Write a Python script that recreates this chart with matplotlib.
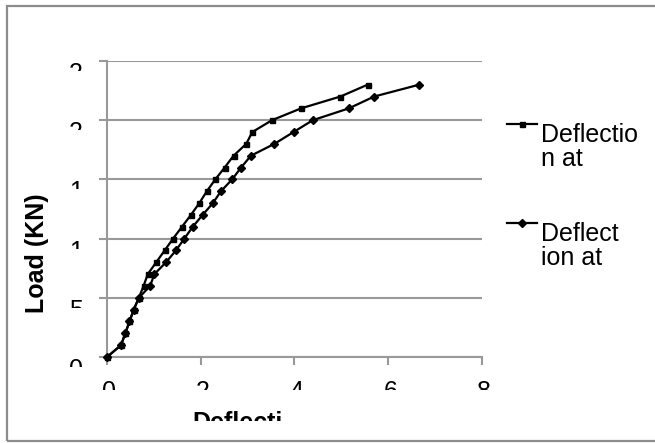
import matplotlib.pyplot as plt
from matplotlib.transforms import Bbox, IdentityTransform
from matplotlib.lines import Line2D
from matplotlib.patches import Rectangle

plt.rcParams['font.family'] = ['Liberation Sans', 'DejaVu Sans']

# load steps in kN and the deflection read at each step, two runs
load = [0, 1, 2, 3, 4, 5, 6, 7, 8, 9, 10, 11, 12, 13, 14, 15, 16, 17, 18, 19, 20, 21, 22, 23]
defl_a = [0, 0.30, 0.39, 0.48, 0.57, 0.68, 0.78, 0.87, 1.05, 1.23, 1.41, 1.60,
          1.79, 1.97, 2.13, 2.31, 2.51, 2.70, 2.97, 3.10, 3.52, 4.14, 4.98, 5.56]
defl_b = [0, 0.30, 0.39, 0.48, 0.57, 0.68, 0.92, 1.01, 1.26, 1.47, 1.65, 1.83,
          2.04, 2.26, 2.43, 2.67, 2.86, 3.07, 3.57, 3.98, 4.39, 5.16, 5.70, 6.66]

x_ticks = [0, 2, 4, 6, 8]
y_ticks = [0, 5, 10, 15, 20, 25]
x_tick_text = ['0', '2', '4', '6', '8']
y_tick_text = ['0', '5', '10', '15', '20', '25']
legend_text = ['Deflectio\nn at', 'Deflect\nion at']
x_title = 'Deflecti'
y_title = 'Load (KN)'

W, H = 655, 443
fig = plt.figure(figsize=(W / 100, H / 100), dpi=100)
ax = fig.add_axes([107 / W, 1 - 357 / H, 375 / W, 296 / H])
grey = '#999999'
FS = 18

ax.plot(defl_a, load, color='black', lw=1.6, marker='s', ms=3.6, clip_on=False, zorder=3)
ax.plot(defl_b, load, color='black', lw=1.6, marker='D', ms=3.6, clip_on=False, zorder=3)

ax.set_xlim(0, 8)
ax.set_ylim(0, 25)
ax.set_xticks(x_ticks)
ax.set_yticks(y_ticks)
ax.tick_params(labelleft=False, labelbottom=False, direction='out',
               length=6, width=1.5, color=grey)
ax.yaxis.grid(True, color=grey, lw=1.5)
ax.set_axisbelow(True)
for s in ('top', 'right'):
    ax.spines[s].set_visible(False)
for s in ('left', 'bottom'):
    ax.spines[s].set_color(grey)
    ax.spines[s].set_linewidth(1.5)


def cut_text(x, top, s, keep, **kw):
    # text in pixel coords (y from the top), chopped off `keep` px below its top
    t = fig.text(x, H - top, s, transform=IdentityTransform(), va='top',
                 fontsize=FS, **kw)
    t.set_clip_box(Bbox.from_extents(0, H - top - keep, W, H))
    t.set_clip_on(True)
    return t


# tick labels only show their first few pixels, like a too-small text box
for v, s in zip(y_ticks, y_tick_text):
    yd = ax.transData.transform((0, v))[1]
    cut_text(76, H - yd + 1, s[0], 9, ha='center')
for v, s in zip(x_ticks, x_tick_text):
    xd, yd = ax.transData.transform((v, 0))
    cut_text(xd + 2, H - yd + 23, s, 10, ha='center')

cut_text(192, 411, x_title, 10, ha='left', fontweight='bold')
fig.text(37, H - 253, y_title, transform=IdentityTransform(), rotation=90,
         ha='center', va='center', fontsize=FS, fontweight='bold')

# legend
for (top, mk), s in zip([(124, 's'), (223, 'D')], legend_text):
    fig.add_artist(Line2D([507, 537], [H - top, H - top], transform=IdentityTransform(),
                          color='black', lw=1.6))
    fig.add_artist(Line2D([522], [H - top], transform=IdentityTransform(),
                          color='black', marker=mk, ms=3.6))
    fig.text(541, H - top + 1, s, transform=IdentityTransform(), va='top', ha='left',
             fontsize=FS, linespacing=1.0)

fig.add_artist(Rectangle((7, H - 441), W, 435, transform=IdentityTransform(),
                         fill=False, ec='#8c8c8c', lw=1.6))

fig.savefig('out.png', dpi=100)
plt.close(fig)
